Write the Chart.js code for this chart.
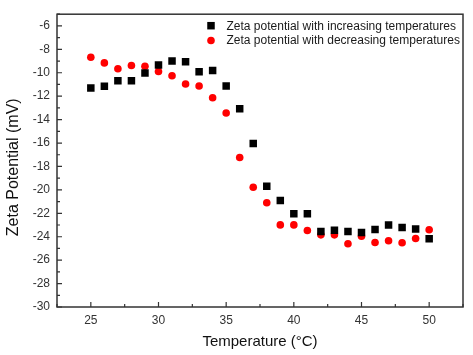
<!DOCTYPE html>
<html><head><meta charset="utf-8">
<script src="https://cdn.jsdelivr.net/npm/chart.js@4/dist/chart.umd.min.js"></script>
<style>html,body{margin:0;padding:0;background:#fff}#wrap{width:473px;height:355px}</style>
</head><body><div id="wrap"><canvas id="c" width="473" height="355"></canvas></div>
<script>
const temperatures = [25,26,27,28,29,30,31,32,33,34,35,36,37,38,39,40,41,42,43,44,45,46,47,48,49,50];
const increasingZeta = [-11.3,-11.16,-10.68,-10.68,-10.03,-9.33,-8.99,-9.07,-9.92,-9.8,-11.13,-13.07,-16.03,-19.7,-20.9,-22.03,-22.03,-23.55,-23.44,-23.55,-23.64,-23.38,-22.99,-23.22,-23.33,-24.17];
const decreasingZeta = [-8.68,-9.16,-9.66,-9.38,-9.44,-9.89,-10.25,-10.96,-11.13,-12.14,-13.44,-17.24,-19.78,-21.1,-22.99,-22.99,-23.47,-23.84,-23.84,-24.6,-23.95,-24.49,-24.34,-24.51,-24.15,-23.41];
const xTickLabels = [25,30,35,40,45,50];
const yTickLabels = [-30,-28,-26,-24,-22,-20,-18,-16,-14,-12,-10,-8,-6];
const seriesLabels = ['Zeta potential with increasing temperatures','Zeta potential with decreasing temperatures'];

const FONT = '"Liberation Sans", Arial, sans-serif';
const toPts = ys => temperatures.map((t,i)=>({x:t,y:ys[i]}));

const framePlugin = {
  id:'frame',
  afterDraw(chart){
    const ctx = chart.ctx, a = chart.chartArea;
    const xs = chart.scales.x, ys = chart.scales.y;
    ctx.save();
    ctx.strokeStyle = '#333'; ctx.lineWidth = 1.5;
    ctx.strokeRect(a.left, a.top, a.right-a.left, a.bottom-a.top);
    ctx.lineWidth = 1.2;
    ctx.beginPath();
    for (let v = 22.5; v <= 52.5; v += 2.5) {
      const px = xs.getPixelForValue(v);
      const len = (v % 5 === 0) ? 5 : 3;
      ctx.moveTo(px, a.bottom); ctx.lineTo(px, a.bottom - len);
    }
    for (let v = -30; v <= -5; v += 1) {
      const py = ys.getPixelForValue(v);
      const len = (v % 2 === 0) ? 5 : 3;
      ctx.moveTo(a.left, py); ctx.lineTo(a.left + len, py);
    }
    ctx.stroke();
    // legend
    const ds = chart.data.datasets;
    ctx.font = '12px ' + FONT;
    ctx.textBaseline = 'middle';
    ctx.fillStyle = '#1a1a1a';
    const lx = a.left + 154, ly0 = a.top + 11.5, dy = 14.8;
    ds.forEach((d,i)=>{
      const y = ly0 + i*dy;
      ctx.save();
      ctx.fillStyle = d.backgroundColor;
      if (d.pointStyle === 'rect') { ctx.fillRect(lx-3.75, y-3.75, 7.5, 7.5); }
      else { ctx.beginPath(); ctx.arc(lx, y, 3.8, 0, Math.PI*2); ctx.fill(); }
      ctx.restore();
      ctx.fillText(d.label, lx + 15.5, y + 0.5);
    });
    ctx.restore();
  }
};

new Chart(document.getElementById('c'), {
  type:'scatter',
  data:{datasets:[
    {label:seriesLabels[0], data:toPts(increasingZeta), pointStyle:'rect', pointRadius:5.3, pointHoverRadius:5.3, backgroundColor:'#000000', borderWidth:0},
    {label:seriesLabels[1], data:toPts(decreasingZeta), pointStyle:'circle', pointRadius:3.8, pointHoverRadius:3.8, backgroundColor:'#ff0000', borderWidth:0}
  ]},
  options:{
    responsive:false, animation:false, devicePixelRatio:1,
    layout:{padding:{left:0,top:11,right:10,bottom:0}},
    plugins:{legend:{display:false}, tooltip:{enabled:false}},
    scales:{
      x:{type:'linear', min:22.5, max:52.5,
        afterBuildTicks(s){ s.ticks = xTickLabels.map(v=>({value:v})); },
        afterFit(s){ s.height = 48; },
        grid:{display:false, drawTicks:false}, border:{display:false},
        ticks:{padding:6, color:'#333', font:{family:FONT, size:12}, maxRotation:0},
        title:{display:true, text:'Temperature (°C)', color:'#111', font:{family:FONT, size:15}, padding:{top:0,bottom:4}}
      },
      y:{type:'linear', min:-30, max:-5,
        afterBuildTicks(s){ s.ticks = yTickLabels.map(v=>({value:v})); },
        afterFit(s){ s.width = 57; },
        grid:{display:false, drawTicks:false}, border:{display:false},
        ticks:{padding:7, color:'#333', font:{family:FONT, size:12}},
        title:{display:true, text:'Zeta Potential (mV)   ', color:'#111', font:{family:FONT, size:16}, padding:{top:4,bottom:0}}
      }
    }
  },
  plugins:[framePlugin]
});
</script></body></html>
